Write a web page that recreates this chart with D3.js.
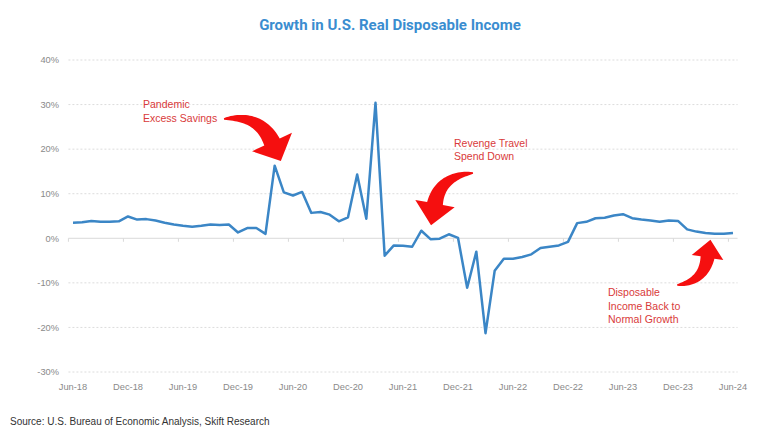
<!DOCTYPE html>
<html><head><meta charset="utf-8">
<script src="https://cdn.jsdelivr.net/npm/d3@7"></script>
<style>
html,body{margin:0;padding:0;background:#fff;}
svg{display:block;}
</style></head>
<body>
<script>
// ---- data ----
const months = ["Jun-18","Jul-18","Aug-18","Sep-18","Oct-18","Nov-18","Dec-18","Jan-19","Feb-19","Mar-19","Apr-19","May-19",
"Jun-19","Jul-19","Aug-19","Sep-19","Oct-19","Nov-19","Dec-19","Jan-20","Feb-20","Mar-20","Apr-20","May-20",
"Jun-20","Jul-20","Aug-20","Sep-20","Oct-20","Nov-20","Dec-20","Jan-21","Feb-21","Mar-21","Apr-21","May-21",
"Jun-21","Jul-21","Aug-21","Sep-21","Oct-21","Nov-21","Dec-21","Jan-22","Feb-22","Mar-22","Apr-22","May-22",
"Jun-22","Jul-22","Aug-22","Sep-22","Oct-22","Nov-22","Dec-22","Jan-23","Feb-23","Mar-23","Apr-23","May-23",
"Jun-23","Jul-23","Aug-23","Sep-23","Oct-23","Nov-23","Dec-23","Jan-24","Feb-24","Mar-24","Apr-24","May-24","Jun-24"];
const growth = [3.5,3.6,3.9,3.7,3.7,3.8,4.9,4.2,4.3,4.0,3.5,3.1,
2.8,2.6,2.8,3.1,3.0,3.1,1.3,2.3,2.3,1.0,16.3,10.3,
9.6,10.4,5.7,5.9,5.3,3.8,4.7,14.3,4.4,30.4,-3.9,-1.6,
-1.7,-1.9,1.7,-0.2,-0.1,0.9,0.1,-11.1,-3.0,-21.3,-7.3,-4.6,
-4.6,-4.2,-3.6,-2.2,-1.9,-1.6,-0.8,3.4,3.7,4.5,4.6,5.1,
5.4,4.5,4.2,4.0,3.7,4.0,3.9,2.0,1.5,1.2,1.0,1.0,1.2];
const xTickLabels = ["Jun-18","Dec-18","Jun-19","Dec-19","Jun-20","Dec-20","Jun-21","Dec-21","Jun-22","Dec-22","Jun-23","Dec-23","Jun-24"];
const yTicks = [-30,-20,-10,0,10,20,30,40];
const title = "Growth in U.S. Real Disposable Income";
const source = "Source: U.S. Bureau of Economic Analysis, Skift Research";

// annotations in data units (month index, percent)
const annotations = [
  {lines:["Pandemic","Excess Savings"], text:[7.64,29.2],
   tail:[16.47,26.76], ctrl:[20.29,27.9], base:[21.71,21.6], bodyW:17, headHalf:22, headLen:21},
  {lines:["Revenge Travel","Spend Down"], text:[41.56,20.5],
   tail:[43.64,14.65], ctrl:[40.04,13.97], base:[39.49,7.8], bodyW:16, headHalf:20, headLen:22},
  {lines:["Disposable","Income Back to","Normal Growth"], text:[58.36,-12.95],
   tail:[65.89,-10.48], ctrl:[68.78,-9.81], base:[69.22,-4.31], bodyW:14, headHalf:16, headLen:18}
];

// ---- layout ----
const W = 768, H = 434;
const svg = d3.select("body").append("svg").attr("width", W).attr("height", H);

const x = d3.scaleLinear().domain([0, months.length - 1]).range([73, 733]);
const y = d3.scaleLinear().domain([-30, 40]).range([372, 60]);

const lblFont = "'Liberation Sans', Arial, sans-serif";

// title
svg.append("text").attr("x", 390).attr("y", 30).attr("text-anchor", "middle")
  .attr("font-family", "Roboto, sans-serif").attr("font-weight", 700).attr("font-size", 15)
  .attr("fill", "#3a8dd0").text(title);

// gridlines
const gx0 = x(-0.5), gx1 = x(months.length - 0.5);
svg.append("g").selectAll("line").data(yTicks.filter(d => d !== 0)).join("line")
  .attr("x1", gx0).attr("x2", gx1).attr("y1", d => y(d)).attr("y2", d => y(d))
  .attr("stroke", "#dcdcdc").attr("stroke-width", 1).attr("stroke-dasharray", "2,2");

// y labels
svg.append("g").selectAll("text").data(yTicks).join("text")
  .attr("x", 59).attr("y", d => y(d) + 3.3).attr("text-anchor", "end")
  .attr("font-family", lblFont).attr("font-size", 9.3).attr("fill", "#8a8a8a")
  .text(d => d + "%");

// zero axis line with ticks between categories
svg.append("line").attr("x1", gx0).attr("x2", gx1).attr("y1", y(0)).attr("y2", y(0))
  .attr("stroke", "#d9d9d9").attr("stroke-width", 1);
const tickIdx = d3.range(-0.5, months.length, 6);
svg.append("g").selectAll("line").data(tickIdx).join("line")
  .attr("x1", d => x(d)).attr("x2", d => x(d)).attr("y1", y(0)).attr("y2", y(0) + 3.5)
  .attr("stroke", "#d9d9d9").attr("stroke-width", 1);

// x labels
svg.append("g").selectAll("text").data(xTickLabels).join("text")
  .attr("x", d => x(months.indexOf(d))).attr("y", 389.5).attr("text-anchor", "middle")
  .attr("font-family", lblFont).attr("font-size", 9.3).attr("fill", "#8a8a8a")
  .text(d => d);

// line
const line = d3.line().x((d, i) => x(i)).y(d => y(d));
svg.append("path").datum(growth).attr("d", line)
  .attr("fill", "none").attr("stroke", "#3b86c6").attr("stroke-width", 2.5)
  .attr("stroke-linejoin", "round");

// annotations
function arrowPath(a) {
  const P0 = [x(a.tail[0]), y(a.tail[1])];
  const C = [x(a.ctrl[0]), y(a.ctrl[1])];
  const P2 = [x(a.base[0]), y(a.base[1])];
  const N = 30, left = [], right = [];
  let nEnd, dEnd;
  for (let k = 0; k <= N; k++) {
    const t = k / N, u = 1 - t;
    const px = u*u*P0[0] + 2*u*t*C[0] + t*t*P2[0];
    const py = u*u*P0[1] + 2*u*t*C[1] + t*t*P2[1];
    let dx = 2*u*(C[0]-P0[0]) + 2*t*(P2[0]-C[0]);
    let dy = 2*u*(C[1]-P0[1]) + 2*t*(P2[1]-C[1]);
    const len = Math.hypot(dx, dy); dx /= len; dy /= len;
    const nx = -dy, ny = dx;
    const w = a.bodyW * (0.08 + 0.92 * Math.pow(t, 0.7)) / 2;
    left.push([px + nx*w, py + ny*w]);
    right.push([px - nx*w, py - ny*w]);
    if (k === N) { nEnd = [nx, ny]; dEnd = [dx, dy]; }
  }
  const tip = [P2[0] + dEnd[0]*a.headLen, P2[1] + dEnd[1]*a.headLen];
  const hl = [P2[0] + nEnd[0]*a.headHalf, P2[1] + nEnd[1]*a.headHalf];
  const hr = [P2[0] - nEnd[0]*a.headHalf, P2[1] - nEnd[1]*a.headHalf];
  const pts = left.concat([hl, tip, hr], right.reverse());
  return "M" + pts.map(p => p[0].toFixed(2) + "," + p[1].toFixed(2)).join("L") + "Z";
}
const ann = svg.append("g");
annotations.forEach(a => {
  ann.append("path").attr("d", arrowPath(a)).attr("fill", "#f50f0f");
  const t = ann.append("text").attr("font-family", lblFont).attr("font-size", 10.5).attr("fill", "#d93a3a");
  a.lines.forEach((s, i) => {
    t.append("tspan").attr("x", x(a.text[0])).attr("y", y(a.text[1]) + i * 13.5).text(s);
  });
});

// source
svg.append("text").attr("x", 10).attr("y", 425)
  .attr("font-family", lblFont).attr("font-size", 10).attr("fill", "#333")
  .text(source);
</script>
</body></html>
